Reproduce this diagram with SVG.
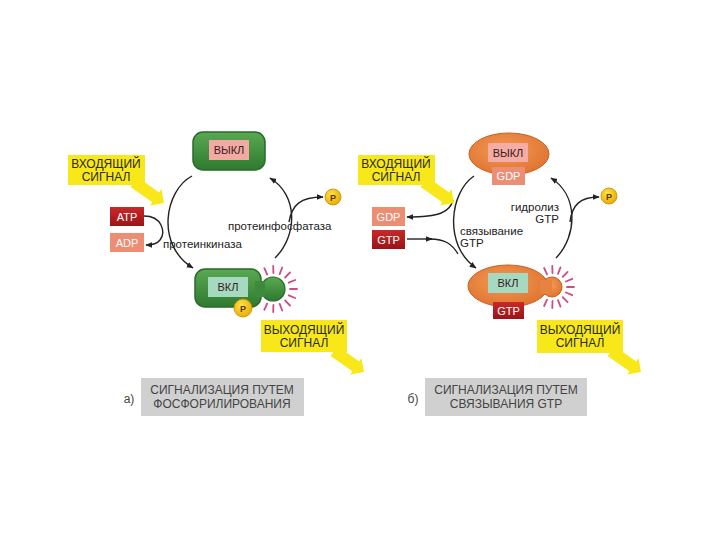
<svg xmlns="http://www.w3.org/2000/svg" width="720" height="540" viewBox="0 0 720 540">
<defs>
<linearGradient id="gGreen" x1="0" y1="0" x2="0" y2="1"><stop offset="0" stop-color="#5aa852"/><stop offset="1" stop-color="#2f7a30"/></linearGradient>
<radialGradient id="gOrange" cx="0.45" cy="0.4" r="0.7"><stop offset="0" stop-color="#f39a55"/><stop offset="1" stop-color="#dd6f2c"/></radialGradient>
<linearGradient id="gRed" x1="0" y1="0" x2="0" y2="1"><stop offset="0" stop-color="#c8282a"/><stop offset="1" stop-color="#9c1416"/></linearGradient>
<radialGradient id="gP" cx="0.4" cy="0.35" r="0.7"><stop offset="0" stop-color="#ffe24a"/><stop offset="1" stop-color="#e8a800"/></radialGradient>
<marker id="ah" viewBox="0 0 10 10" refX="9" refY="5" markerWidth="7" markerHeight="7" orient="auto" markerUnits="userSpaceOnUse"><path d="M0,1 L10,5 L0,9 z" fill="#222"/></marker>
<style>
text{font-family:"Liberation Sans",Arial,sans-serif;}
.lbl{font-size:11.5px;fill:#222;}
.call{font-size:12px;fill:#2a2a2a;text-anchor:middle;}
.yel{fill:#f8e81a;}
.box{font-size:11px;text-anchor:middle;}
.wt{fill:#fff;}
.dk{fill:#3a2020;}
.con{fill:none;stroke:#222;stroke-width:1.4;}
.ray{stroke:#d04c86;stroke-width:1.8;stroke-linecap:round;}
.gray{fill:#d0d0d0;}
.cap{font-size:12px;fill:#444;text-anchor:middle;}
.pc{font-size:9px;font-weight:bold;fill:#5a3a00;text-anchor:middle;}
</style>
</defs>
<rect width="720" height="540" fill="#fff"/>

<!-- connectors -->
<g id="connectors">
<path class="con" d="M192,176 C165,190 155,245 193,268" marker-end="url(#ah)"/>
<path class="con" d="M275,258 C298,235 298,195 270,178" marker-end="url(#ah)"/>
<path class="con" d="M289,222 C292,205 300,197 323,197" marker-end="url(#ah)"/>
<path class="con" d="M144,216 C162,216 166,232 160,240 C157,244 153,245 146,245" marker-end="url(#ah)"/>

<path class="con" d="M474,176 C450,192 443,245 476,268" marker-end="url(#ah)"/>
<path class="con" d="M556,258 C578,235 578,195 551,178" marker-end="url(#ah)"/>
<path class="con" d="M570,222 C572,205 580,197 599,197" marker-end="url(#ah)"/>
<path class="con" d="M453,200 C450,212 440,217 407,217" marker-end="url(#ah)"/>
<path class="con" d="M407,239 L432,239" marker-end="url(#ah)"/>
<path class="con" d="M430,239 C445,239 452,244 458,254"/>
</g>

<!-- LEFT PANEL -->
<g id="in-signal-a">
<rect class="yel" x="68" y="155" width="77" height="30"/>
<polygon class="yel" points="137.4,177.1 159.2,192.4 161.5,189.1 164,203 150.1,205.5 152.4,202.2 130.6,186.9"/>
<text class="call" x="106" y="168">ВХОДЯЩИЙ</text>
<text class="call" x="106" y="181">СИГНАЛ</text>
</g>

<g id="off-a">
<rect x="193" y="132" width="72" height="38" rx="10" fill="url(#gGreen)" stroke="#2a6a2a" stroke-width="1.5"/>
<rect x="209" y="140" width="40" height="20" fill="#f2aaa2"/>
<text class="box dk" x="229" y="154">ВЫКЛ</text>
</g>

<g id="atp-a">
<rect x="110" y="207" width="34" height="19" fill="url(#gRed)"/>
<text class="box wt" x="127" y="221">ATP</text>
</g>
<g id="adp-a">
<rect x="110" y="233" width="34" height="19" fill="#ec8e74"/>
<text class="box wt" x="127" y="247">ADP</text>
</g>

<g id="labels-a">
<text class="lbl" x="228" y="230">протеинфосфатаза</text>
<text class="lbl" x="163" y="248">протеинкиназа</text>
</g>

<g id="p-out-a">
<circle cx="333" cy="197" r="8" fill="url(#gP)" stroke="#c88a00" stroke-width="0.8"/>
<text class="pc" x="333" y="200.5">P</text>
</g>

<g id="on-a">
<g class="ray">
<line x1="267.2" y1="274.5" x2="264.3" y2="268.2"/>
<line x1="273.4" y1="273" x2="273.2" y2="266"/>
<line x1="279.7" y1="274.1" x2="282.2" y2="267.5"/>
<line x1="285.1" y1="277.5" x2="290" y2="272.5"/>
<line x1="288.7" y1="282.7" x2="295.2" y2="280"/>
<line x1="290" y1="289" x2="297" y2="289"/>
<line x1="288.7" y1="295.3" x2="295.2" y2="298"/>
<line x1="285.1" y1="300.5" x2="290" y2="305.5"/>
<line x1="279.7" y1="303.9" x2="282.2" y2="310.5"/>
<line x1="273.4" y1="305" x2="273.2" y2="312"/>
<line x1="267.2" y1="303.5" x2="264.3" y2="309.8"/>
</g>
<circle cx="273" cy="289" r="12" fill="url(#gGreen)" stroke="#2a6a2a" stroke-width="1.2"/>
<rect x="195" y="269" width="66" height="38" rx="10" fill="url(#gGreen)" stroke="#2a6a2a" stroke-width="1.5"/>
<rect x="255" y="281" width="10" height="16" fill="#3d8a3c"/>
<rect x="208" y="277" width="40" height="20" fill="#a6d9c2"/>
<text class="box dk" x="228" y="291">ВКЛ</text>
<circle cx="243" cy="308" r="9" fill="url(#gP)" stroke="#c88a00" stroke-width="0.8"/>
<text class="pc" x="243" y="311.5">P</text>
</g>

<g id="out-signal-a">
<rect class="yel" x="261" y="320" width="86" height="32"/>
<polygon class="yel" points="337.4,346.1 359.2,361.4 361.5,358.1 364,372 350.1,374.5 352.4,371.2 330.6,355.9"/>
<text class="call" x="304" y="334">ВЫХОДЯЩИЙ</text>
<text class="call" x="304" y="347">СИГНАЛ</text>
</g>

<g id="caption-a">
<text class="cap" x="129" y="403">а)</text>
<rect class="gray" x="141" y="378" width="163" height="38"/>
<text class="cap" x="222" y="394">СИГНАЛИЗАЦИЯ ПУТЕМ</text>
<text class="cap" x="222" y="408">ФОСФОРИЛИРОВАНИЯ</text>
</g>

<!-- RIGHT PANEL -->
<g id="in-signal-b">
<rect class="yel" x="358" y="155" width="77" height="30"/>
<polygon class="yel" points="427.4,177.1 449.2,192.4 451.5,189.1 454,203 440.1,205.5 442.4,202.2 420.6,186.9"/>
<text class="call" x="396" y="168">ВХОДЯЩИЙ</text>
<text class="call" x="396" y="181">СИГНАЛ</text>
</g>

<g id="off-b">
<ellipse cx="509" cy="154" rx="40" ry="21" fill="url(#gOrange)" stroke="#c8601e" stroke-width="1"/>
<rect x="488" y="143" width="40" height="19" fill="#f4aca4"/>
<text class="box dk" x="508" y="156.5">ВЫКЛ</text>
<rect x="492" y="167" width="33" height="18" fill="#ec8e74"/>
<text class="box wt" x="508.5" y="180">GDP</text>
</g>

<g id="gdp-b">
<rect x="372" y="207" width="33" height="19" fill="#ec8e74"/>
<text class="box wt" x="388.5" y="221">GDP</text>
</g>
<g id="gtp-b">
<rect x="372" y="230" width="33" height="19" fill="url(#gRed)"/>
<text class="box wt" x="388.5" y="244">GTP</text>
</g>

<g id="labels-b">
<text class="lbl" x="559" y="211" text-anchor="end">гидролиз</text>
<text class="lbl" x="559" y="223" text-anchor="end">GTP</text>
<text class="lbl" x="460" y="235">связывание</text>
<text class="lbl" x="460" y="247">GTP</text>
</g>

<g id="p-out-b">
<circle cx="609" cy="196" r="8" fill="url(#gP)" stroke="#c88a00" stroke-width="0.8"/>
<text class="pc" x="609" y="199.5">P</text>
</g>

<g id="on-b">
<g class="ray">
<line x1="547.1" y1="274.3" x2="544.1" y2="268"/>
<line x1="552.5" y1="273" x2="552.3" y2="266"/>
<line x1="558" y1="273.9" x2="560.5" y2="267.4"/>
<line x1="562.7" y1="276.9" x2="567.6" y2="271.9"/>
<line x1="565.9" y1="281.5" x2="572.3" y2="278.8"/>
<line x1="567" y1="287" x2="574" y2="287"/>
<line x1="565.9" y1="292.5" x2="572.3" y2="295.2"/>
<line x1="562.7" y1="297.1" x2="567.6" y2="302.1"/>
<line x1="558" y1="300.1" x2="560.5" y2="306.6"/>
<line x1="552.5" y1="301" x2="552.3" y2="308"/>
<line x1="547.1" y1="299.7" x2="544.1" y2="306"/>
</g>
<circle cx="552" cy="287" r="10" fill="url(#gOrange)" stroke="#c8601e" stroke-width="1"/>
<ellipse cx="508" cy="286" rx="40" ry="21" fill="url(#gOrange)" stroke="#c8601e" stroke-width="1"/>
<rect x="540" y="280" width="12" height="14" fill="#e98140"/>
<rect x="488" y="273" width="40" height="20" fill="#a6d9c2"/>
<text class="box dk" x="508" y="287">ВКЛ</text>
<rect x="493" y="302" width="31" height="17" fill="url(#gRed)"/>
<text class="box wt" x="508.5" y="314.5">GTP</text>
</g>

<g id="out-signal-b">
<rect class="yel" x="537" y="320" width="86" height="33"/>
<polygon class="yel" points="614.4,346.1 636.2,361.4 638.5,358.1 641,372 627.1,374.5 629.4,371.2 607.6,355.9"/>
<text class="call" x="580" y="334">ВЫХОДЯЩИЙ</text>
<text class="call" x="580" y="347">СИГНАЛ</text>
</g>

<g id="caption-b">
<text class="cap" x="413" y="403">б)</text>
<rect class="gray" x="425" y="378" width="162" height="38"/>
<text class="cap" x="506" y="394">СИГНАЛИЗАЦИЯ ПУТЕМ</text>
<text class="cap" x="506" y="408">СВЯЗЫВАНИЯ GTP</text>
</g>
</svg>
